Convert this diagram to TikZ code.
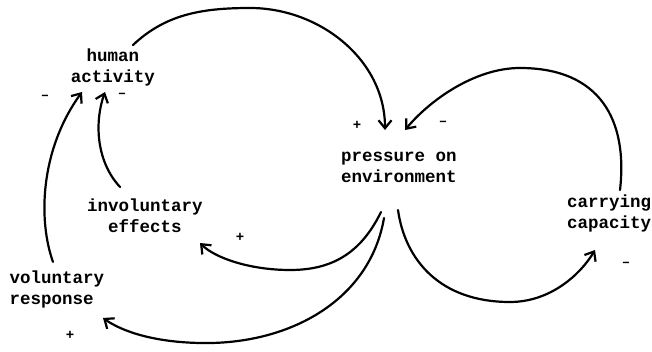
\documentclass[tikz,border=0pt]{standalone}
\usepackage{fontspec}
\setmonofont{Liberation Mono}
\usetikzlibrary{arrows.meta,calc}
\begin{document}
\begin{tikzpicture}[x=1pt,y=1pt,
  lbl/.style={font=\ttfamily\bfseries\fontsize{17.5}{21}\selectfont, inner sep=0pt, align=center},
  sgn/.style={font=\ttfamily\bfseries\fontsize{14}{14}\selectfont, inner sep=0pt},
  arr/.style={line width=2.2pt, line cap=round, -{Straight Barb[length=8pt,width=13pt,line width=2.2pt]}}]
\useasboundingbox (0,0) rectangle (652,-352);
% nodes
\node[lbl] (ha) at (113,-67) {human\\activity};
\node[lbl] (pe) at (399,-167) {pressure on\\environment};
\node[lbl] (cc) at (609,-213) {carrying\\capacity};
\node[lbl] (ie) at (145,-216) {involuntary\\effects};
\node[lbl, align=left] (vr) at (57,-289) {voluntary\\response};
% signs
\node[sgn] (s1) at (45,-97) {–};
\node[sgn] (s2) at (122,-95) {–};
\node[sgn] (s3) at (357,-125) {+};
\node[sgn] (s4) at (443,-123) {–};
\node[sgn] (s5) at (240,-237) {+};
\node[sgn] (s6) at (70,-335) {+};
\node[sgn] (s7) at (626,-264) {–};
% connectors
\draw[arr] ($(ha)+(20,22)$) .. controls (165,-15) and (200,-8) .. (250,-8)
  .. controls (320,-8) and (385,-60) .. ($(pe)+(-14,37)$);
\draw[arr] ($(cc)+(11,23)$) .. controls (628,-120) and (600,-68) .. (520,-68)
  .. controls (475,-68) and (430,-100) .. ($(pe)+(6,37)$);
\draw[arr] ($(pe)+(-1,-43)$) .. controls (405,-260) and (440,-302) .. (510,-302)
  .. controls (550,-302) and (580,-275) .. ($(cc)+(-14,-37)$);
\draw[arr] ($(pe)+(-18,-45)$) .. controls (360,-255) and (330,-270) .. (290,-270)
  .. controls (250,-270) and (215,-258) .. ($(ie)+(55,-27)$);
\draw[arr] ($(pe)+(-15,-51)$) .. controls (370,-300) and (290,-345) .. (200,-343)
  .. controls (150,-342) and (120,-330) .. ($(vr)+(46,-29)$);
\draw[arr] ($(ie)+(-25,29)$) .. controls (95,-160) and (95,-120) .. ($(ha)+(-8,-25)$);
\draw[arr] ($(vr)+(-4,27)$) .. controls (38,-220) and (40,-150) .. ($(ha)+(-31,-25)$);
\end{tikzpicture}
\end{document}
